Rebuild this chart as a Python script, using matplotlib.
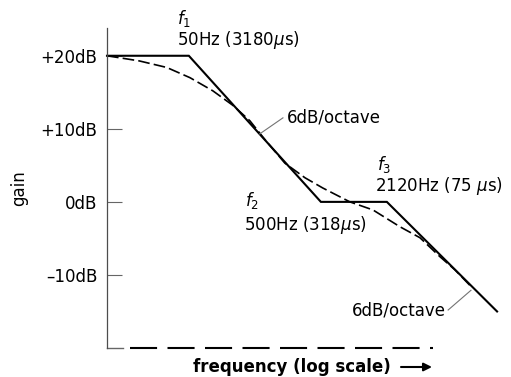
import matplotlib
matplotlib.use("Agg")
import matplotlib.pyplot as plt

# straight-line (asymptotic) response
asym_freq = [12, 50, 500, 1580, 10800]
asym_db = [20, 20, 0, 0, -15]

# the real (dashed) response curve
curve_freq = [12, 21, 34, 51, 76, 108, 145, 189, 267, 379, 517, 829,
              1239, 1983, 2811, 3987, 5180, 6700]
curve_db = [20, 19.3, 18.4, 17.0, 15.2, 13.2, 11.1, 8.5, 5.3, 3.3, 1.9, 0.0,
            -1.1, -3.4, -4.9, -7.5, -9.3, -11.4]

ytick_vals = [20, 10, 0, -10]
ytick_labels = ["+20dB", "+10dB", "0dB", "\u201310dB"]

plt.rcParams['font.family'] = 'DejaVu Sans'
plt.rcParams['mathtext.fontset'] = 'dejavusans'

fig = plt.figure(figsize=(5.11, 3.77), dpi=100)
ax = fig.add_axes([107 / 511, 29 / 377, 398 / 511, 320 / 377])
ax.set_xscale('log')
ax.set_xlim(12, 12400)
ax.set_ylim(-20, 23.8)

ax.plot(asym_freq, asym_db, color='black', lw=1.5, solid_joinstyle='miter',
        clip_on=False)
ax.plot(curve_freq, curve_db, color='black', lw=1.2, dashes=(7, 2.5),
        clip_on=False)

# axes look
for s in ['top', 'right', 'bottom']:
    ax.spines[s].set_visible(False)
ax.spines['left'].set_color('0.3')
ax.spines['left'].set_linewidth(0.9)
ax.set_xticks([])
ax.minorticks_off()
ax.xaxis.set_minor_locator(plt.NullLocator())
ax.set_yticks(ytick_vals)
ax.set_yticklabels(ytick_labels)
ax.tick_params(axis='y', direction='in', length=11, width=0.8, color='0.4',
               pad=7, labelsize=12)

# dashed baseline with a small solid corner
ax.plot([0, 0.04], [0, 0], transform=ax.transAxes, color='0.4', lw=1,
        clip_on=False)
ax.plot([0.058, 0.82], [0, 0], transform=ax.transAxes, color='black',
        lw=1.5, dashes=(13, 5), clip_on=False)

# labels
fs = 12
ax.text(41, 25.1, r"$f_1$", fontsize=fs, va='center', ha='left')
ax.text(41, 22.2, r"50Hz (3180$\mu$s)", fontsize=fs, va='center', ha='left')
ax.text(133, 0.2, r"$f_2$", fontsize=fs, va='center', ha='left')
ax.text(130, -3.1, r"500Hz (318$\mu$s)", fontsize=fs, va='center', ha='left')
ax.text(1330, 5.1, r"$f_3$", fontsize=fs, va='center', ha='left')
ax.text(1283, 2.2, r"2120Hz (75 $\mu$s)", fontsize=fs, va='center', ha='left')

ax.text(276, 11.5, "6dB/octave", fontsize=fs, va='center', ha='left')
ax.plot([258, 172], [11.5, 9.3], color='0.45', lw=0.8)
ax.text(858, -14.9, "6dB/octave", fontsize=fs, va='center', ha='left')
ax.plot([4600, 6850], [-14.8, -12.1], color='0.45', lw=0.8)

fig.text(19 / 511, 1 - 188 / 377, "gain", rotation=90, fontsize=fs,
         va='center', ha='center')
fig.text(193 / 511, 1 - 367 / 377, "frequency (log scale)", fontsize=12,
         fontweight='bold', va='center', ha='left')
ax.annotate("", xy=(432 / 511, 1 - 367 / 377), xytext=(401 / 511, 1 - 367 / 377),
            xycoords='figure fraction', textcoords='figure fraction',
            arrowprops=dict(arrowstyle='-|>', color='black', lw=1.5,
                            mutation_scale=12, shrinkA=0, shrinkB=0))

fig.savefig("out.png", dpi=100)
